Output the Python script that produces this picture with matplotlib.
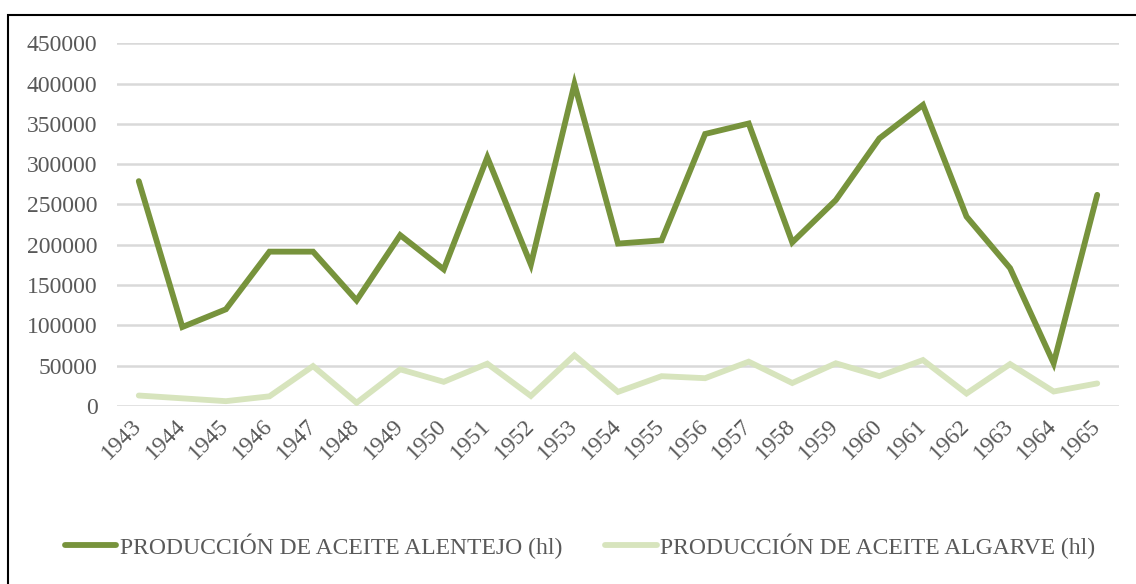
import matplotlib
matplotlib.use("Agg")
import matplotlib.pyplot as plt
from matplotlib.patches import Rectangle

years = [str(y) for y in range(1943, 1966)]
alentejo = [279000, 98000, 120000, 191500, 191500, 131000, 212000, 169500, 308500,
            175500, 399500, 201500, 205500, 337500, 350500, 203000, 255500, 332000,
            373500, 235000, 171000, 53000, 262000]
algarve = [13000, 9500, 6000, 12000, 49500, 4000, 45500, 30000, 52500,
           12500, 63000, 17500, 37000, 34500, 55000, 28500, 53000, 37000,
           57000, 15500, 52000, 18000, 28000]
labels = ["PRODUCCIÓN DE ACEITE ALENTEJO (hl)", "PRODUCCIÓN DE ACEITE ALGARVE (hl)"]
yticks = list(range(0, 450001, 50000))

plt.rcParams['font.family'] = ['Liberation Serif', 'DejaVu Serif']

fig = plt.figure(figsize=(11.36, 5.84), dpi=100)
ax = fig.add_axes([117/1136, 1-406/584, (1119-117)/1136, (406-43.3)/584])

x = list(range(len(years)))
l1, = ax.plot(x, alentejo, color='#77933C', lw=4.2, solid_joinstyle='miter', solid_capstyle='round', zorder=3)
l2, = ax.plot(x, algarve, color='#D7E4BD', lw=4.2, solid_joinstyle='miter', solid_capstyle='round', zorder=3)

ax.set_xlim(-0.5, len(years)-0.5)
ax.set_ylim(0, 450000)
ax.set_yticks(yticks)
ax.set_yticklabels([str(v) for v in yticks])
ax.set_xticks(x)
ax.set_xticklabels(years, rotation=45, ha='right', va='center', rotation_mode='anchor')
ax.tick_params(axis='both', length=0, labelsize=17, labelcolor='#595959')
ax.tick_params(axis='y', pad=14)
ax.tick_params(axis='x', pad=12)
ax.grid(axis='y', color='#D9D9D9', lw=1.8)
ax.set_axisbelow(True)
for s in ax.spines.values():
    s.set_visible(False)

leg = fig.legend([l1, l2], labels, loc='center', bbox_to_anchor=(580/1136, 1-546/584),
                 ncol=2, frameon=False, fontsize=17, handlelength=2.2, handletextpad=0.15,
                 columnspacing=1.8, labelcolor='#595959')
for h in leg.get_lines():
    h.set_linewidth(4.2)

fig.patches.append(Rectangle((8/1136, -0.05), 1.2, 1-15/584+0.05, transform=fig.transFigure,
                             fill=False, edgecolor='black', lw=1.5))

fig.savefig('out.png', dpi=100)
